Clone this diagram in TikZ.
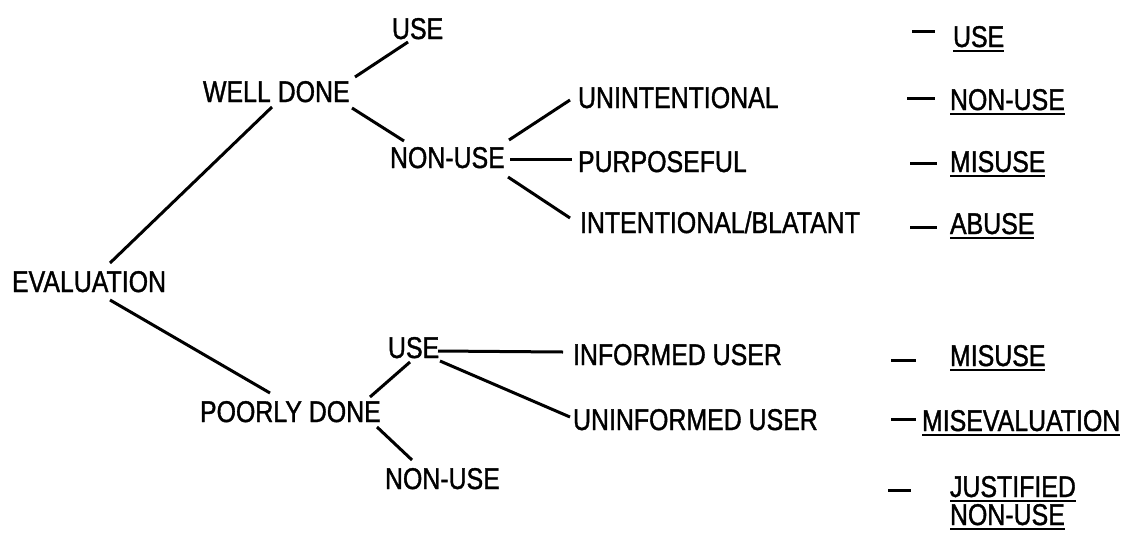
\documentclass[tikz,border=0pt]{standalone}
\usepackage{fontspec}
\setmainfont{Liberation Sans}[FakeStretch=0.83,FakeBold=1.2]
\begin{document}
\begin{tikzpicture}[x=1pt,y=-1pt,
  lbl/.style={anchor=south west,inner sep=0pt,outer sep=0pt,text depth=0pt,
    font=\fontsize{30}{36}\selectfont},
  conn/.style={line width=3pt},
  dashmark/.style={line width=3pt},
  uline/.style={line width=2.8pt}]
\useasboundingbox (0,0) rectangle (1134,536);
% tree nodes
\node[lbl] (eval)   at (12,292)  {EVALUATION};
\node[lbl] (wd)     at (203,102) {WELL DONE};
\node[lbl] (usetop) at (392,39)  {USE};
\node[lbl] (nontop) at (390,168) {NON-USE};
\node[lbl] (unint)  at (578,108) {UNINTENTIONAL};
\node[lbl] (purp)   at (578,172) {PURPOSEFUL};
\node[lbl] (intb)   at (580,233) {INTENTIONAL/BLATANT};
\node[lbl] (poorly) at (200,422) {POORLY DONE};
\node[lbl] (usebot) at (388,358) {USE};
\node[lbl] (nonbot) at (385,489) {NON-USE};
\node[lbl] (inf)    at (573,365) {INFORMED USER};
\node[lbl] (uninf)  at (573,430) {UNINFORMED USER};
% outcome nodes
\node[lbl] (r1) at (953,47)  {USE};
\node[lbl] (r2) at (950,110) {NON-USE};
\node[lbl] (r3) at (950,172) {MISUSE};
\node[lbl] (r4) at (950,234) {ABUSE};
\node[lbl] (r5) at (950,366) {MISUSE};
\node[lbl] (r6) at (922,431) {MISEVALUATION};
\node[lbl] (r7) at (950,497) {JUSTIFIED};
\node[lbl] (r8) at (950,525) {NON-USE};
% connectors
\draw[conn] ([shift={(98,-29)}]eval.south west) -- ([shift={(69,5)}]wd.south west);
\draw[conn] ([shift={(98,8)}]eval.south west) -- ([shift={(70,-29)}]poorly.south west);
\draw[conn] ([shift={(152,-25)}]wd.south west) -- ([shift={(16,3)}]usetop.south west);
\draw[conn] ([shift={(149,6)}]wd.south west) -- ([shift={(14,-27)}]nontop.south west);
\draw[conn] ([shift={(119,-28)}]nontop.south west) -- ([shift={(-8,-8)}]unint.south west);
\draw[conn] ([shift={(120,-9)}]nontop.south west) -- ([shift={(-6,-13)}]purp.south west);
\draw[conn] ([shift={(118,9)}]nontop.south west) -- ([shift={(-10,-15)}]intb.south west);
\draw[conn] ([shift={(170,-25)}]poorly.south west) -- ([shift={(22,4)}]usebot.south west);
\draw[conn] ([shift={(177,5)}]poorly.south west) -- ([shift={(27,-29)}]nonbot.south west);
\draw[conn] ([shift={(50,-7)}]usebot.south west) -- ([shift={(-10,-13)}]inf.south west);
\draw[conn] ([shift={(52,3)}]usebot.south west) -- ([shift={(-3,-13)}]uninf.south west);
% dashes before outcomes
\draw[dashmark] ([shift={(-41,-16)}]r1.south west) -- ([shift={(-18,-16)}]r1.south west);
\draw[dashmark] ([shift={(-43,-12)}]r2.south west) -- ([shift={(-15,-12)}]r2.south west);
\draw[dashmark] ([shift={(-40,-9)}]r3.south west) -- ([shift={(-13,-9)}]r3.south west);
\draw[dashmark] ([shift={(-40,-7)}]r4.south west) -- ([shift={(-13,-7)}]r4.south west);
\draw[dashmark] ([shift={(-59,-6)}]r5.south west) -- ([shift={(-34,-6)}]r5.south west);
\draw[dashmark] ([shift={(-31,-12)}]r6.south west) -- ([shift={(-6,-12)}]r6.south west);
\draw[dashmark] ([shift={(-62,-7)}]r7.south west) -- ([shift={(-39,-7)}]r7.south west);
% underlines
\foreach \n in {r1,r2,r3,r4,r5,r6,r7,r8}
  \draw[uline] ([shift={(0,4)}]\n.south west) -- ([shift={(0,4)}]\n.south east);
\end{tikzpicture}
\end{document}
